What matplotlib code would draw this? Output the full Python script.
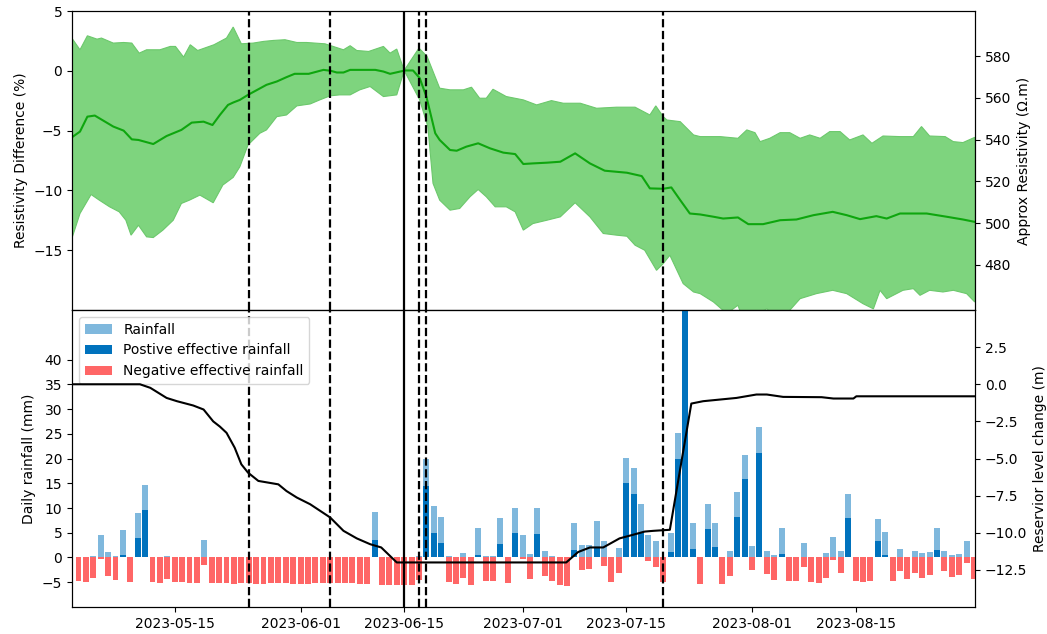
"""
Resistivity difference vs rainfall / reservoir level, May-Aug 2023.
"""
import numpy as np
import pandas as pd
import matplotlib
matplotlib.use('Agg')
import matplotlib.pyplot as plt
import matplotlib.dates as mdates

START = pd.Timestamp('2023-05-01')

# ---- top panel: resistivity difference (%), day offsets from START ----
mean_days = [0.1, 1.2, 2.2, 3.2, 5.7, 7.1, 8.2, 9.1, 11.1, 12.9, 14.9, 16.3, 17.9, 19.1, 20.1,
             21.2, 21.9, 22.8, 23.9, 25.3, 26.4, 27.8, 29.1, 30.2, 32.1, 34.1, 35.1, 35.9, 36.8,
             37.7, 41.1, 42.2, 43.1, 45.1, 46.2, 47.1, 48.0, 49.2, 49.8, 51.2, 52.1, 53.4, 55.0,
             56.6, 58.4, 60.0, 61.1, 62.4, 64.3, 66.1, 68.1, 70.1, 72.1, 75.1, 77.1, 78.2, 80.0,
             81.1, 82.3, 83.6, 85.0, 86.8, 88.1, 90.1, 91.5, 93.5, 95.8, 98.0, 100.3, 102.9,
             104.8, 106.6, 108.8, 110.2, 112.0, 115.6, 118.3, 120.5, 122.1]
mean_vals = [-5.56, -5.08, -3.83, -3.74, -4.66, -5.0, -5.73, -5.78, -6.12, -5.45, -4.94, -4.33,
             -4.25, -4.53, -3.69, -2.85, -2.65, -2.43, -2.01, -1.54, -1.17, -0.89, -0.53, -0.25,
             -0.25, 0.08, 0.0, -0.14, -0.14, 0.08, 0.08, -0.06, -0.25, 0.03, 0.03, -0.61, -2.15,
             -5.22, -5.78, -6.62, -6.68, -6.34, -6.06, -6.48, -6.84, -6.96, -7.79, -7.74, -7.68,
             -7.6, -6.9, -7.74, -8.35, -8.52, -8.8, -9.83, -9.86, -9.75, -10.81, -11.93, -12.01,
             -12.2, -12.35, -12.26, -12.82, -12.82, -12.49, -12.43, -12.07, -11.79, -12.07,
             -12.4, -12.15, -12.35, -11.93, -11.93, -12.2, -12.43, -12.63]

up_days = [0.1, 1.2, 2.2, 3.5, 4.1, 5.7, 7.1, 8.2, 9.2, 10.2, 12.0, 13.4, 14.1, 15.2, 16.1,
           17.1, 19.3, 21.0, 21.9, 23.0, 24.6, 26.0, 27.3, 28.9, 30.5, 31.8, 34.3, 35.4, 36.8,
           37.7, 38.6, 40.2, 42.2, 43.1, 44.0, 45.0, 47.0, 48.1, 49.8, 51.2, 53.0, 54.1, 55.2,
           56.1, 57.0, 58.8, 61.1, 62.9, 64.9, 66.5, 68.8, 71.0, 73.7, 76.2, 78.2, 79.0, 80.0,
           80.5, 82.3, 84.1, 85.0, 87.7, 90.1, 91.3, 92.4, 93.1, 94.4, 95.8, 97.1, 98.5, 99.8,
           101.2, 102.5, 103.9, 105.2, 107.0, 108.2, 109.7, 112.0, 113.8, 114.9, 116.0, 118.1,
           119.2, 120.5, 122.1]
up_vals = [2.74, 1.76, 2.93, 2.65, 2.74, 2.32, 2.37, 2.32, 1.48, 1.76, 1.76, 2.04, 2.04, 1.15,
           2.18, 1.7, 2.18, 2.74, 3.66, 2.26, 2.32, 2.46, 2.54, 2.6, 2.37, 2.37, 2.26, 2.04,
           1.76, 2.1, 1.7, 1.62, 2.04, 1.48, 1.82, 0.03, 1.9, 1.2, -1.45, -1.59, -1.59, -1.37,
           -2.29, -2.29, -1.54, -2.15, -2.43, -2.85, -2.49, -2.71, -2.71, -3.13, -3.04, -3.04,
           -3.69, -2.93, -3.83, -4.11, -4.25, -5.36, -5.5, -5.5, -5.64, -4.94, -5.17, -5.92,
           -5.64, -5.17, -5.17, -5.64, -5.36, -5.64, -5.08, -5.08, -5.78, -5.36, -6.06, -5.45,
           -5.5, -5.5, -4.66, -5.45, -5.5, -5.92, -6.0, -5.56]

lo_days = [0.1, 1.2, 2.7, 3.8, 5.2, 6.5, 7.4, 8.1, 9.1, 10.2, 11.1, 12.4, 13.8, 14.9, 16.0,
           17.4, 19.2, 20.5, 21.9, 22.8, 23.9, 25.5, 26.4, 27.8, 29.1, 30.5, 32.3, 33.6, 35.0,
           36.3, 37.7, 39.0, 40.4, 42.2, 44.0, 45.0, 47.1, 48.2, 48.9, 49.8, 51.2, 52.5, 53.9,
           55.0, 56.1, 57.3, 58.8, 60.0, 61.1, 62.4, 64.3, 66.1, 68.1, 70.1, 71.9, 73.7, 75.1,
           76.2, 77.5, 79.1, 80.0, 80.9, 82.7, 84.1, 85.0, 86.8, 88.6, 90.1, 90.8, 92.4, 94.0,
           95.3, 96.7, 98.5, 100.7, 102.9, 104.8, 107.0, 108.4, 109.3, 110.2, 112.4, 113.8,
           114.7, 116.0, 117.8, 119.2, 121.0, 122.1]
lo_vals = [-14.02, -11.93, -10.34, -10.81, -11.37, -11.79, -12.49, -13.74, -12.91, -13.88,
           -13.94, -13.32, -12.49, -11.09, -10.81, -10.39, -11.03, -9.55, -8.91, -8.02, -6.2,
           -5.22, -4.94, -3.83, -3.69, -2.93, -2.77, -2.43, -2.09, -2.01, -2.01, -1.59, -1.31,
           -2.15, -2.01, 0.03, -2.43, -4.66, -9.41, -10.81, -11.65, -11.51, -10.53, -9.92,
           -10.53, -11.37, -11.37, -11.79, -13.32, -12.77, -12.49, -12.21, -11.03, -12.21,
           -13.6, -13.74, -13.83, -14.58, -15.0, -16.68, -16.12, -15.42, -17.79, -18.49,
           -18.63, -19.33, -20.3, -19.6, -20.8, -20.4, -19.9, -20.5, -20.3, -19.05, -18.63,
           -18.35, -18.63, -19.47, -19.9, -18.35, -19.05, -18.35, -18.21, -18.77, -18.35,
           -18.49, -18.35, -18.63, -19.33]

BASE_RES = 573.0  # resistivity at 0 % difference (ohm.m)

# ---- bottom panel: daily rainfall (mm), from 2023-05-02 ----
rainfall = [0, 0, 0.4, 4.5, 1.1, 0.3, 5.5, 0, 8.9, 14.7,
            0, 0, 0.3, 0, 0, 0, 0, 3.5, 0, 0,
            0, 0, 0, 0, 0, 0, 0, 0, 0, 0,
            0, 0, 0, 0, 0, 0, 0, 0, 0, 0,
            9.1, 0, 0, 0, 0, 0, 0.3, 20.0, 10.4, 8.2,
            0.4, 0, 0.9, 0, 6.0, 0.4, 0.4, 8.0, 0, 10.1,
            4.5, 0.7, 9.9, 1.4, 0.3, 0, 0, 7.0, 2.6, 2.6,
            7.3, 3.3, 0, 2.0, 20.2, 18.1, 10.8, 4.5, 3.3, 0,
            5.0, 25.1, 62.0, 7.0, 0, 10.9, 7.0, 0, 1.4, 13.2,
            20.7, 2.3, 26.3, 1.4, 0.5, 5.9, 0, 0, 2.9, 0,
            0, 0.9, 4.2, 1.4, 12.8, 0, 0, 0, 7.8, 5.2,
            0, 1.8, 0, 1.4, 0.9, 1.1, 6.0, 1.4, 0.6, 0.8,
            3.3, 0]
pos_eff = [0, 0, 0, 0, 0, 0, 0.6, 0, 4.0, 9.6,
           0, 0, 0, 0, 0, 0, 0, 0, 0, 0,
           0, 0, 0, 0, 0, 0, 0, 0, 0, 0,
           0, 0, 0, 0, 0, 0, 0, 0, 0, 0,
           3.5, 0, 0, 0, 0, 0, 0, 14.4, 5.0, 3.0,
           0, 0, 0, 0, 0.5, 0, 0, 2.8, 0, 5.0,
           0, 0, 4.8, 0, 0, 0, 0, 1.6, 0, 0,
           2.0, 0, 0, 0, 15.1, 12.9, 5.0, 0, 0, 0,
           1.1, 19.9, 57.0, 1.8, 0, 5.7, 2.1, 0, 0, 8.2,
           15.8, 0, 21.2, 0, 0, 0.7, 0, 0, 0, 0,
           0, 0, 0, 0, 7.9, 0, 0, 0, 3.3, 0.5,
           0, 0, 0, 0, 0, 0, 1.6, 0, 0, 0,
           0, 0]
neg_eff = [-4.8, -4.9, -4.1, -0.4, -3.8, -4.6, 0, -5.0, 0, 0,
           -4.9, -5.1, -4.4, -4.9, -4.9, -5.1, -5.1, -1.5, -5.2, -5.2,
           -5.2, -5.3, -5.2, -5.2, -5.3, -5.3, -5.2, -5.2, -5.1, -5.3,
           -5.3, -5.3, -5.2, -5.2, -5.1, -5.1, -5.2, -5.2, -5.4, -5.4,
           0, -5.6, -5.6, -5.6, -5.6, -5.5, -4.5, 0, 0, 0,
           -4.9, -5.4, -4.2, -5.6, 0, -4.7, -4.7, 0, -5.2, 0,
           -0.4, -4.3, 0, -3.7, -4.8, -5.5, -5.7, 0, -2.6, -2.4,
           0, -1.8, -5.0, -3.1, 0, 0, 0, -0.7, -2.0, -4.9,
           0, 0, 0, 0, -5.3, 0, 0, -5.3, -3.7, 0,
           0, -2.6, 0, -3.4, -4.5, 0, -4.8, -4.8, -2.0, -5.0,
           -5.1, -4.1, -0.6, -3.2, 0, -4.8, -5.0, -4.8, 0, 0,
           -4.7, -2.8, -4.3, -3.2, -4.1, -3.6, 0, -2.8, -4.0, -3.6,
           -1.1, -4.3]

# reservoir level change (m), day offsets from START
res_days = [0, 9.3, 10.7, 12.9, 14.3, 16.5, 17.9, 19.2, 20.1, 21.0, 22.1, 23.0, 23.9, 25.3,
            28.0, 29.1, 30.5, 32.3, 35.0, 36.8, 38.6, 40.4, 41.9, 44.0, 66.9, 68.5, 70.1,
            71.9, 74.1, 75.9, 77.5, 78.7, 80.9, 83.8, 85.4, 89.9, 92.6, 94.0, 96.2, 101.4,
            103.0, 105.7, 106.1, 122.2]
res_vals = [0, 0, -0.24, -0.92, -1.14, -1.43, -1.70, -2.5, -2.85, -3.27, -4.27, -5.39, -5.95,
            -6.51, -6.74, -7.19, -7.63, -8.08, -8.97, -9.87, -10.38, -10.77, -10.99, -12.0,
            -12.0, -11.3, -10.99, -10.99, -10.38, -10.14, -9.92, -9.87, -9.80, -1.30, -1.14,
            -0.92, -0.69, -0.69, -0.85, -0.87, -0.96, -0.96, -0.81, -0.81]

dashed_dates = ['2023-05-25', '2023-06-05', '2023-06-17', '2023-06-18', '2023-07-20']
solid_date = '2023-06-15'

# colours
FILL_GREEN = '#7ed47e'
LINE_GREEN = '#0ea60e'
BLUE = '#0072BD'
RED = '#ff6666'


def to_dates(days):
    return START + pd.to_timedelta(np.asarray(days, dtype=float), unit='D')


fig = plt.figure(figsize=(10.47, 6.34), dpi=100)
ax1 = fig.add_axes([0.0688, 0.511, 0.8624, 0.4716])
ax2 = fig.add_axes([0.0688, 0.0426, 0.8624, 0.4684], sharex=ax1)

# ========== TOP PANEL ==========
band_x = np.concatenate([to_dates(up_days), to_dates(lo_days)[::-1]])
band_y = np.concatenate([up_vals, lo_vals[::-1]])
ax1.fill(band_x, band_y, facecolor=FILL_GREEN, edgecolor='#6cc86c', linewidth=0.8, zorder=1)
ax1.plot(to_dates(mean_days), mean_vals, color=LINE_GREEN, linewidth=1.5, zorder=2)
ax1.set_ylim(-20, 5)
ax1.set_yticks([-15, -10, -5, 0, 5])
ax1.set_ylabel('Resistivity Difference (%)', fontsize=10)
plt.setp(ax1.get_xticklabels(), visible=False)

ax1r = ax1.twinx()
ax1r.set_ylim(BASE_RES * (1 - 20 / 100), BASE_RES * (1 + 5 / 100))
ax1r.set_yticks([480, 500, 520, 540, 560, 580])
ax1r.set_ylabel('Approx Resistivity (\u03a9.m)', fontsize=10)

# ========== BOTTOM PANEL ==========
bar_dates = pd.date_range('2023-05-02', periods=len(rainfall), freq='D')
b1 = ax2.bar(bar_dates, rainfall, width=0.8, color=BLUE, alpha=0.5, label='Rainfall', zorder=2)
b2 = ax2.bar(bar_dates, pos_eff, width=0.8, color=BLUE, label='Postive effective rainfall', zorder=3)
b3 = ax2.bar(bar_dates, neg_eff, width=0.8, color=RED, label='Negative effective rainfall', zorder=3)
ax2.set_ylim(-10, 50)
ax2.set_yticks(np.arange(-5, 45, 5))
ax2.set_ylabel('Daily rainfall (mm)', fontsize=10)
ax2.legend(handles=[b1, b2, b3], loc='upper left', fontsize=10)

ax2r = ax2.twinx()
ax2r.plot(to_dates(res_days), res_vals, color='black', linewidth=1.5)
ax2r.set_ylim(-15, 5)
ax2r.set_yticks([-12.5, -10, -7.5, -5, -2.5, 0, 2.5])
ax2r.set_yticklabels(['\u221212.5', '\u221210.0', '\u22127.5', '\u22125.0', '\u22122.5', '0.0', '2.5'])
ax2r.set_ylabel('Reservior level change (m)', fontsize=10)

# event lines
for ax in (ax1, ax2):
    for d in dashed_dates:
        ax.axvline(pd.Timestamp(d), color='black', linestyle='--', linewidth=1.6, zorder=4)
    ax.axvline(pd.Timestamp(solid_date), color='black', linestyle='-', linewidth=1.6, zorder=4)

ax2.xaxis.set_major_locator(mdates.DayLocator(bymonthday=[1, 15]))
ax2.xaxis.set_major_formatter(mdates.DateFormatter('%Y-%m-%d'))
ax2.set_xlim(pd.Timestamp('2023-05-01 03:00'), pd.Timestamp('2023-08-31 03:00'))

fig.savefig('out.png', dpi=100, facecolor='white')
print('Saved: out.png')
